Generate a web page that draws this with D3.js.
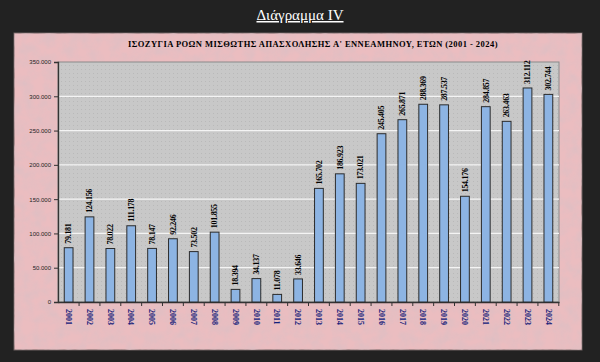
<!DOCTYPE html>
<html lang="el">
<head>
<meta charset="utf-8">
<title>Διάγραμμα IV</title>
<script src="https://d3js.org/d3.v7.min.js"></script>
<style>
  body { margin: 0; background: #222222; }
</style>
</head>
<body>
<script>
  var years = ["2001","2002","2003","2004","2005","2006","2007","2008","2009","2010","2011","2012",
               "2013","2014","2015","2016","2017","2018","2019","2020","2021","2022","2023","2024"];
  var values = [79181, 124156, 78022, 111178, 78147, 92246, 73502, 101855, 18394, 34137, 11078, 33646,
                165702, 186923, 173021, 245405, 265871, 288369, 287537, 154176, 284857, 263463, 312112, 302744];
  var yTicks = [0, 50000, 100000, 150000, 200000, 250000, 300000, 350000];

  var w = 600, h = 362;
  var panel = {x: 14, y: 33, w: 568, h: 317};
  var margin = {top: 62, left: 58, right: 41, bottom: 60};

  var fmt = d3.formatLocale({decimal: ",", thousands: ".", grouping: [3], currency: ["", "€"]}).format(",d");

  var svg = d3.select("body").append("svg")
      .attr("width", w)
      .attr("height", h);

  // pink paper background
  var defs = svg.append("defs");
  var filt = defs.append("filter").attr("id", "paper");
  filt.append("feTurbulence").attr("type", "fractalNoise").attr("baseFrequency", 0.09).attr("numOctaves", 3).attr("seed", 4).attr("result", "n");
  filt.append("feColorMatrix").attr("type", "matrix")
      .attr("values", "0 0 0 0 0.72  0 0 0 0 0.52  0 0 0 0 0.55  1.4 0 0 0 -0.45");
  filt.append("feComposite").attr("in2", "SourceGraphic").attr("operator", "in");

  var dots = defs.append("pattern").attr("id", "dots")
      .attr("width", 4).attr("height", 4).attr("patternUnits", "userSpaceOnUse");
  dots.append("rect").attr("width", 4).attr("height", 4).attr("fill", "#c8c8c8");
  dots.append("rect").attr("x", 1).attr("y", 1).attr("width", 1).attr("height", 1).attr("fill", "#b9b9b9");

  svg.append("rect")
      .attr("x", panel.x).attr("y", panel.y)
      .attr("width", panel.w).attr("height", panel.h)
      .attr("fill", "#ebbdc0")
      .attr("stroke", "#6d6060").attr("stroke-width", 1);
  svg.append("rect")
      .attr("x", panel.x).attr("y", panel.y)
      .attr("width", panel.w).attr("height", panel.h)
      .attr("fill", "#ebbdc0")
      .attr("filter", "url(#paper)");

  // main title
  svg.append("text")
      .attr("x", 300).attr("y", 20)
      .attr("text-anchor", "middle")
      .attr("fill", "#ffffff")
      .style("font-family", "Liberation Serif, serif")
      .style("font-size", "15px")
      .style("text-decoration", "underline")
      .text("Διάγραμμα IV");

  svg.append("text")
      .attr("x", 313).attr("y", 47)
      .attr("text-anchor", "middle")
      .attr("fill", "#000")
      .style("font-family", "Liberation Serif, serif")
      .style("font-weight", "bold")
      .style("font-size", "8.5px")
      .style("letter-spacing", "0.45px")
      .text("ΙΣΟΖΥΓΙΑ ΡΟΩΝ ΜΙΣΘΩΤΗΣ ΑΠΑΣΧΟΛΗΣΗΣ Α' ΕΝΝΕΑΜΗΝΟΥ, ΕΤΩΝ  (2001 - 2024)");

  var x = d3.scaleBand()
      .domain(years)
      .range([margin.left, w - margin.right])
      .paddingInner(0.58)
      .paddingOuter(0.3);

  var y = d3.scaleLinear()
      .domain([0, 350000])
      .range([h - margin.bottom, margin.top]);

  // plot area
  svg.append("rect")
      .attr("x", margin.left).attr("y", margin.top)
      .attr("width", w - margin.right - margin.left)
      .attr("height", h - margin.bottom - margin.top)
      .attr("fill", "url(#dots)")
      .attr("stroke", "#8a8a8a").attr("stroke-width", 1);

  svg.append("g")
      .selectAll("line")
      .data(yTicks.slice(1, -1))
      .join("line")
      .attr("x1", margin.left).attr("x2", w - margin.right)
      .attr("y1", d => y(d)).attr("y2", d => y(d))
      .attr("stroke", "#f4f4f4").attr("stroke-width", 1.2);

  // y axis
  var yAxis = svg.append("g")
      .attr("transform", "translate(" + margin.left + ",0)")
      .call(d3.axisLeft(y).tickValues(yTicks).tickSize(4).tickFormat(fmt));
  yAxis.select(".domain").attr("stroke", "#333").attr("stroke-width", 1.3);
  yAxis.selectAll(".tick line").attr("stroke", "#333");
  yAxis.selectAll("text")
      .attr("fill", "#222")
      .style("font-family", "Liberation Sans, Arial, sans-serif")
      .style("font-size", "6px");

  // x axis
  var xAxis = svg.append("g")
      .attr("transform", "translate(0," + y(0) + ")")
      .call(d3.axisBottom(x).tickSize(0));
  xAxis.select(".domain").attr("stroke", "#333").attr("stroke-width", 1.3);
  xAxis.selectAll(".tick").append("line")
      .attr("x1", x.step() / 2).attr("x2", x.step() / 2)
      .attr("y1", 0).attr("y2", 4)
      .attr("stroke", "#333");
  xAxis.selectAll("text")
      .attr("transform", "rotate(90)")
      .attr("x", 7).attr("y", 0).attr("dy", "0.35em")
      .attr("text-anchor", "start")
      .attr("fill", "#13207a")
      .style("font-family", "Liberation Serif, serif")
      .style("font-weight", "bold")
      .style("font-size", "8px");

  // bars
  var data = years.map((yr, i) => ({year: yr, value: values[i]}));
  svg.append("g")
      .selectAll("rect")
      .data(data)
      .join("rect")
      .attr("x", d => x(d.year))
      .attr("y", d => y(d.value))
      .attr("width", x.bandwidth())
      .attr("height", d => y(0) - y(d.value))
      .attr("fill", "#8db4e3")
      .attr("stroke", "#2b2b2b")
      .attr("stroke-width", 1);

  svg.append("g")
      .selectAll("text")
      .data(data)
      .join("text")
      .attr("transform", d => "translate(" + (x(d.year) + x.bandwidth() / 2) + "," + (y(d.value) - 4) + ") rotate(-90)")
      .attr("dy", "0.35em")
      .attr("text-anchor", "start")
      .attr("fill", "#000")
      .style("font-family", "Liberation Serif, serif")
      .style("font-weight", "bold")
      .style("font-size", "8px")
      .style("letter-spacing", "-0.3px")
      .text(d => fmt(d.value));
</script>
</body>
</html>
